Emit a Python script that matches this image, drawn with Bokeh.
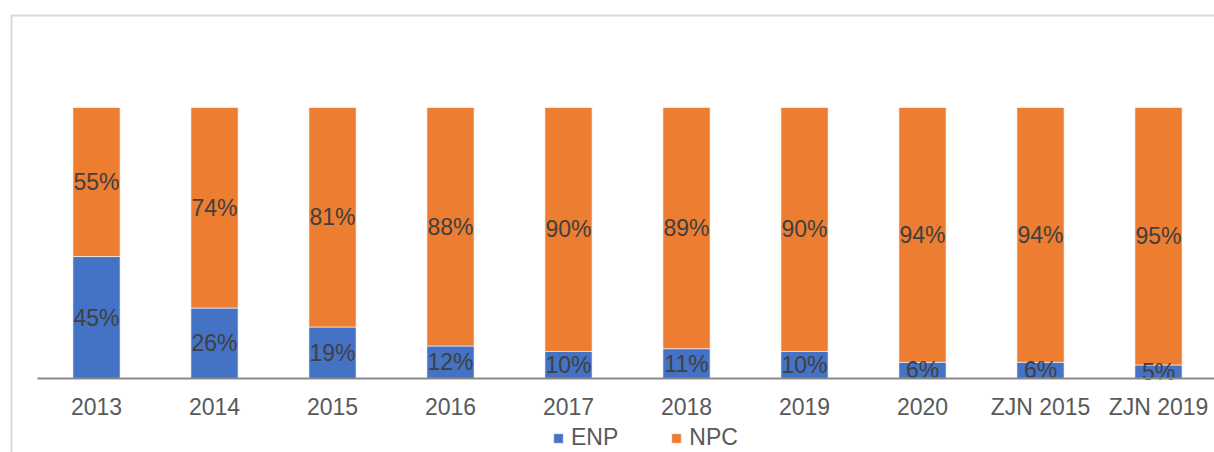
from bokeh.plotting import figure
from bokeh.models import (ColumnDataSource, Range1d, Legend, LegendItem, BoxAnnotation)
from bokeh.core.properties import value
from bokeh.embed import file_html
from bokeh.resources import INLINE

# ---- data ----
categories = ["2013", "2014", "2015", "2016", "2017", "2018", "2019", "2020",
              "ZJN 2015", "ZJN 2019"]
enp = [45, 26, 19, 12, 10, 11, 10, 6, 6, 5]
npc = [55, 74, 81, 88, 90, 89, 90, 94, 94, 95]

BLUE = "#4472C4"
ORANGE = "#ED7D31"
FONT = "Liberation Sans"

xs = [i + 0.5 for i in range(len(categories))]
src = ColumnDataSource(dict(
    x=xs,
    ENP=[v / 100 for v in enp],
    NPC=[v / 100 for v in npc],
))

W, H = 1214, 452
AXIS_LEFT = 37           # canvas px where category axis starts
UNIT_PX = 118.0
PX_PER_Y = 271.0
BASE_Y = 378             # canvas px of value 0

p = figure(width=W, height=H, output_backend="svg", toolbar_location=None,
           x_range=Range1d(-AXIS_LEFT / UNIT_PX, (W - AXIS_LEFT) / UNIT_PX),
           y_range=Range1d(-(H - BASE_Y) / PX_PER_Y, BASE_Y / PX_PER_Y),
           x_axis_location=None, y_axis_location=None,
           min_border_left=0, min_border_right=0, min_border_top=0,
           min_border_bottom=0)
p.outline_line_color = None
p.grid.visible = False
p.background_fill_color = "white"
p.border_fill_color = "white"

# chart-area border (top and left edges)
frame_box = BoxAnnotation(left=11, right=3000, top=15, bottom=3000,
                          left_units="canvas", right_units="canvas",
                          top_units="canvas", bottom_units="canvas",
                          fill_alpha=0, line_color="#d9d9d9", line_alpha=1.0,
                          line_dash="solid", line_width=2)
p.add_layout(frame_box)

rs = p.vbar_stack(["ENP", "NPC"], x="x", width=0.4, source=src,
                  color=[BLUE, ORANGE], line_color="white", line_width=0.6)

# category axis baseline (spans the categories only)
base = BoxAnnotation(left=0, right=len(categories), top=0, bottom=0,
                     fill_alpha=0, line_color="#898989", line_alpha=1.0,
                     line_dash="solid", line_width=2)
p.add_layout(base)

# category labels under the baseline
p.text(x=xs, y=[0] * len(xs), text=categories, y_offset=28,
       text_align="center", text_baseline="middle",
       text_font=value(FONT), text_font_size="23px", text_color="#595959")

# data labels
lab_x, lab_y, lab_t = [], [], []
for i in range(len(categories)):
    lab_x.append(xs[i]); lab_y.append(enp[i] / 200); lab_t.append(f"{enp[i]}%")
    lab_x.append(xs[i]); lab_y.append((enp[i] + npc[i] / 2) / 100); lab_t.append(f"{npc[i]}%")
p.text(x=lab_x, y=lab_y, text=lab_t, text_align="center", text_baseline="middle",
       text_font=value(FONT), text_font_size="23px", text_color="#404040")

legend = Legend(items=[LegendItem(label="ENP", renderers=[rs[0]]),
                       LegendItem(label="NPC", renderers=[rs[1]])],
                orientation="horizontal", location=(552, 1), padding=0, margin=0,
                spacing=52, glyph_width=12, glyph_height=12, label_standoff=7,
                label_text_font=FONT, label_text_font_size="23px",
                label_text_color="#595959", border_line_color=None,
                background_fill_alpha=0)
p.add_layout(legend, "center")

open("out.html", "w").write(file_html(p, INLINE))
